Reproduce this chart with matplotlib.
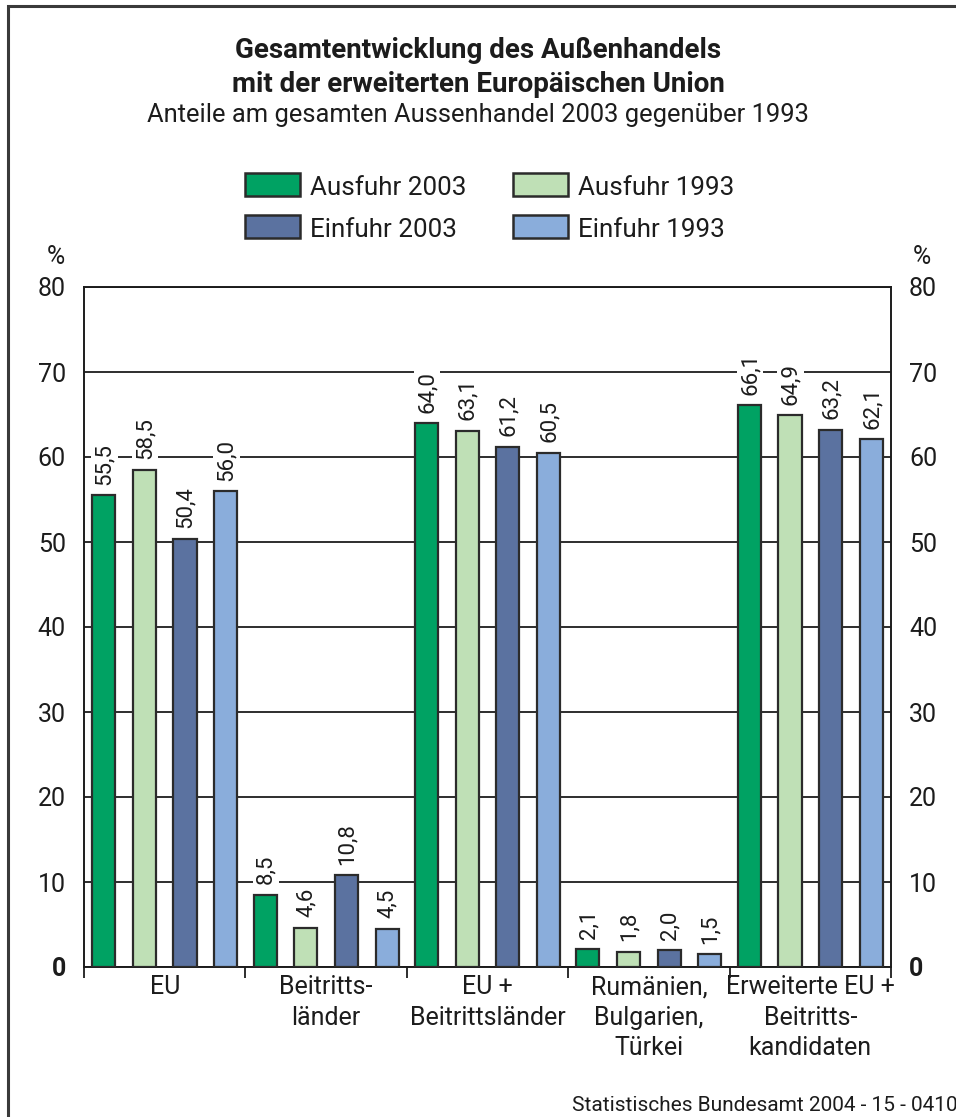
import matplotlib
matplotlib.use("Agg")
import matplotlib.pyplot as plt
from matplotlib import font_manager
from matplotlib.patches import Rectangle
import numpy as np

# --- data -------------------------------------------------------------
categories = ["EU", "Beitritts-\nländer", "EU +\nBeitrittsländer",
              "Rumänien,\nBulgarien,\nTürkei",
              "Erweiterte EU +\nBeitritts-\nkandidaten"]
series_names = ["Ausfuhr 2003", "Ausfuhr 1993", "Einfuhr 2003", "Einfuhr 1993"]
ausfuhr_2003 = [55.5, 8.5, 64.0, 2.1, 66.1]
ausfuhr_1993 = [58.5, 4.6, 63.1, 1.8, 64.9]
einfuhr_2003 = [50.4, 10.8, 61.2, 2.0, 63.2]
einfuhr_1993 = [56.0, 4.5, 60.5, 1.5, 62.1]
y_ticks = [0, 10, 20, 30, 40, 50, 60, 70, 80]

colors = ["#00a263", "#bfe0b6", "#5b72a0", "#8aaddb"]
edge = "#2b2b2b"
ink = "#1c1c1c"


def pick(*names):
    avail = {f.name for f in font_manager.fontManager.ttflist}
    for n in names:
        if n in avail:
            return n
    return "DejaVu Sans"


body_font = pick("Roboto", "Lato", "DejaVu Sans")
plt.rcParams["font.family"] = [body_font, "DejaVu Sans"]

W, H = 956, 1117
fig = plt.figure(figsize=(W / 100, H / 100), dpi=100)


def fx(px):
    return px / W


def fy(py):
    return 1 - py / H


# outer frame (open to the right and bottom edges)
fig.add_artist(Rectangle((fx(8), -0.05), 1.2, fy(6) + 0.05,
                         transform=fig.transFigure, fill=False,
                         edgecolor="#3a3a3a", linewidth=2.2))

ax = fig.add_axes([fx(84), fy(967), fx(891) - fx(84), fy(287) - fy(967)])

n_groups = len(categories)
x = np.arange(n_groups)
step = 0.252
width = 0.143
offsets = (np.arange(4) - 1.5) * step
all_series = [ausfuhr_2003, ausfuhr_1993, einfuhr_2003, einfuhr_1993]

for vals, off, col, name in zip(all_series, offsets, colors, series_names):
    bars = ax.bar(x + off, vals, width=width, color=col, edgecolor=edge,
                  linewidth=1.6, zorder=3, label=name)
    for b, v in zip(bars, vals):
        ax.annotate(f"{v:.1f}".replace(".", ","),
                    xy=(b.get_x() + b.get_width() / 2, v),
                    xytext=(0.5, 7.5), textcoords="offset points",
                    rotation=90, ha="center", va="bottom",
                    fontsize=16, color=ink, zorder=4,
                    bbox=dict(boxstyle="square,pad=0.12", fc="white",
                              ec="none"))

ax.set_xlim(-0.5, n_groups - 0.5)
ax.set_ylim(0, 80)
ax.set_yticks(y_ticks)
ax.set_yticklabels([str(t) for t in y_ticks])
ax.yaxis.grid(True, color=ink, linewidth=1.3, zorder=0)
ax.set_axisbelow(True)
ax.tick_params(axis="y", length=0, labelsize=18, pad=13,
               labelleft=True, labelright=True, labelcolor=ink)
zero = ax.yaxis.get_major_ticks()[0]
zero.label1.set_fontweight("bold")
zero.label2.set_fontweight("bold")

# category boundaries as ticks, category names at the group centres
ax.set_xticks(np.arange(n_groups + 1) - 0.5)
ax.set_xticklabels([])
ax.set_xticks(x, minor=True)
ax.set_xticklabels(categories, minor=True, fontsize=18, linespacing=1.34,
                   color=ink)
ax.tick_params(axis="x", which="major", length=8, width=1.3,
               direction="out", color=ink)
ax.tick_params(axis="x", which="minor", length=0, pad=6)

for s in ax.spines.values():
    s.set_color(ink)
    s.set_linewidth(1.4)

fig.text(fx(56), fy(264), "%", ha="center", va="baseline", fontsize=18,
         color=ink)
fig.text(fx(922), fy(264), "%", ha="center", va="baseline", fontsize=18,
         color=ink)

# titles
fig.text(0.5, fy(58), "Gesamtentwicklung des Außenhandels",
         ha="center", va="baseline", fontsize=20, fontweight="bold",
         color=ink)
fig.text(0.5, fy(91.5), "mit der erweiterten Europäischen Union",
         ha="center", va="baseline", fontsize=20, fontweight="bold",
         color=ink)
fig.text(0.5, fy(122), "Anteile am gesamten Aussenhandel 2003 gegenüber 1993",
         ha="center", va="baseline", fontsize=18.4, color=ink)

# legend, two columns
leg_cols = [245, 513]
leg_rows = [(173, 196, 195), (215, 238, 237)]   # patch top, patch bottom, text baseline
leg_order = [[0, 1], [2, 3]]
for r, (top, bot, base) in enumerate(leg_rows):
    for c, x0 in enumerate(leg_cols):
        i = leg_order[r][c]
        fig.add_artist(Rectangle((fx(x0), fy(bot)), fx(55), (bot - top) / H,
                                 transform=fig.transFigure, facecolor=colors[i],
                                 edgecolor=edge, linewidth=1.8))
        fig.text(fx(x0 + 65), fy(base), series_names[i], ha="left",
                 va="baseline", fontsize=18.7, color=ink)

fig.text(fx(958), fy(1111), "Statistisches Bundesamt 2004 - 15 - 0410",
         ha="right", va="baseline", fontsize=15, color=ink)

fig.savefig("out.png", dpi=100)
